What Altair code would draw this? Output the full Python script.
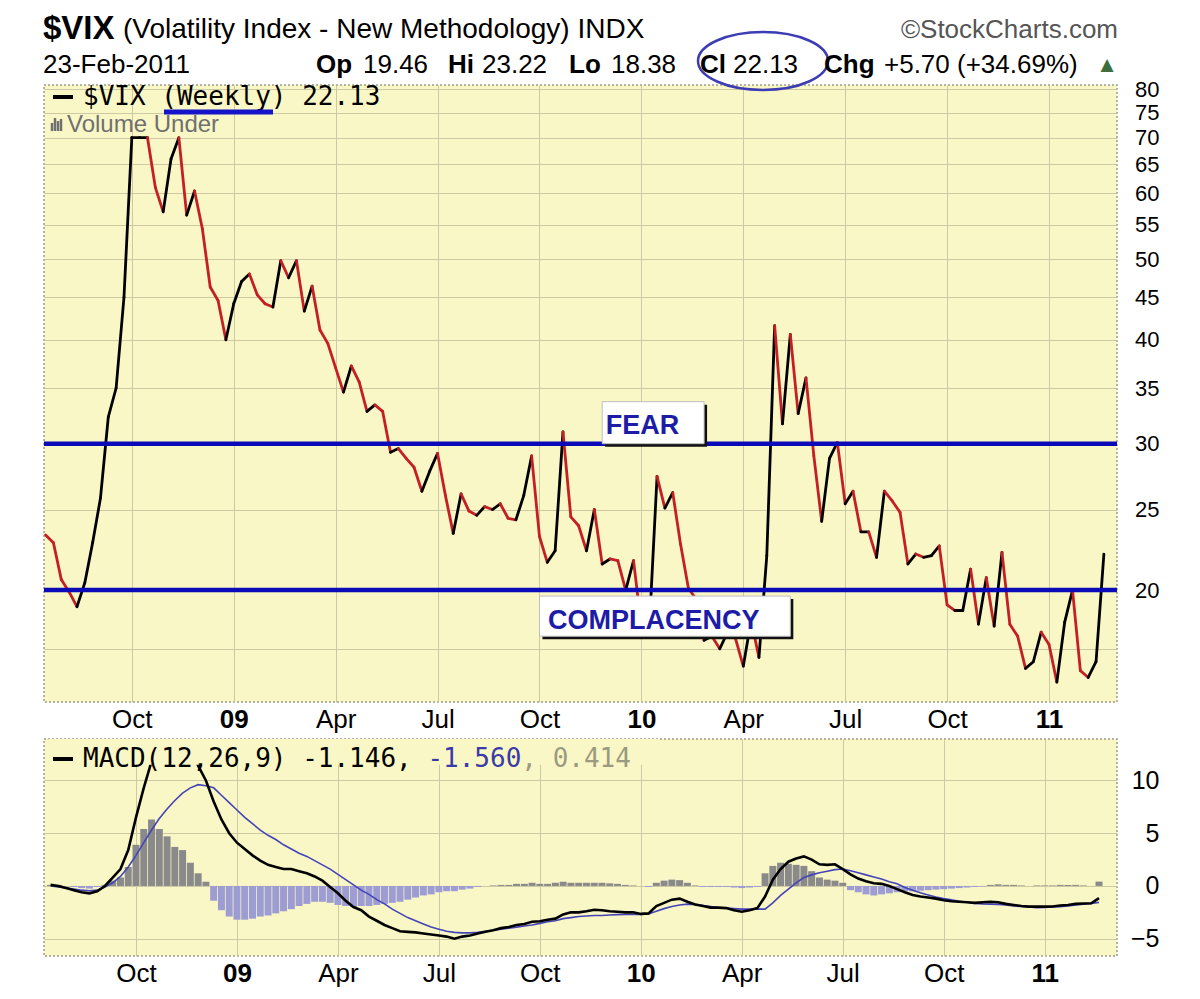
import altair as alt
import pandas as pd
import numpy as np

# ---------------- data (weekly, bars dated by the Monday of each week) ----------------
first_week = "2008-07-21"
vix_close = [
    23.3, 22.8, 20.6, 19.9, 19.1, 20.4, 22.8, 25.8, 32.3, 35.0,
    45.0, 70.0, 70.0, 70.0, 61.0, 57.0, 66.0, 70.0, 56.5, 60.4,
    54.4, 46.3, 44.6, 40.0, 44.2, 47.0, 48.0, 45.3, 44.2, 43.8,
    49.8, 47.5, 49.8, 43.3, 46.4, 41.1, 39.6, 37.0, 34.6, 37.2,
    35.6, 32.8, 33.4, 32.8, 29.3, 29.6, 28.8, 28.1, 26.3, 27.8,
    29.2, 26.0, 23.4, 26.1, 24.9, 24.6, 25.2, 25.0, 25.4, 24.4,
    24.3, 26.0, 29.0, 23.2, 21.6, 22.3, 31.0, 24.5, 23.9, 22.3,
    25.0, 21.5, 21.8, 21.7, 20.0, 21.7, 18.1, 17.9, 27.4, 25.1,
    26.2, 22.7, 20.1, 19.5, 17.4, 17.6, 17.0, 17.8, 17.5, 16.2,
    18.4, 16.6, 22.0, 41.6, 31.7, 40.6, 32.6, 36.0, 29.0, 24.2,
    28.8, 30.1, 25.4, 26.3, 23.5, 23.5, 21.9, 26.3, 25.6, 24.8,
    21.5, 22.1, 21.9, 22.0, 22.6, 19.2, 18.9, 18.9, 21.2, 18.2,
    20.7, 18.1, 22.2, 18.2, 17.6, 16.1, 16.4, 17.8, 17.2, 15.5,
    18.3, 20.0, 16.0, 15.7, 16.4, 22.1,
]
macd_line = [
    0.1, 0.0, -0.2, -0.4, -0.6, -0.7, -0.5, 0.0, 0.8, 1.6,
    3.4, 6.5, 9.3, 11.8, 14.5, 15.5, 16.0, 15.5, 13.5, 11.4,
    10.0, 8.0, 6.3, 5.0, 4.1, 3.5, 2.9, 2.4, 2.0, 1.8,
    1.6, 1.6, 1.4, 1.2, 0.9, 0.5, -0.1, -0.7, -1.4, -2.0,
    -2.3, -2.9, -3.3, -3.7, -4.0, -4.3, -4.35, -4.4, -4.5, -4.6,
    -4.7, -4.8, -5.0, -4.8, -4.7, -4.5, -4.35, -4.2, -4.0, -3.9,
    -3.7, -3.6, -3.4, -3.35, -3.2, -3.1, -2.7, -2.5, -2.5, -2.4,
    -2.25, -2.3, -2.4, -2.45, -2.5, -2.5, -2.65, -2.6, -1.9, -1.6,
    -1.3, -1.2, -1.5, -1.75, -1.9, -2.05, -2.05, -2.1, -2.3, -2.45,
    -2.3, -2.1, -1.0, 0.6, 1.6, 2.3, 2.6, 2.8, 2.5, 2.05,
    2.0, 2.05, 1.6, 1.1, 0.7, 0.45, 0.25, 0.2, 0.0, -0.3,
    -0.6, -0.85, -1.0, -1.1, -1.2, -1.35, -1.45, -1.5, -1.55, -1.6,
    -1.55, -1.5, -1.55, -1.7, -1.8, -1.9, -1.96, -1.96, -1.96, -1.95,
    -1.85, -1.8, -1.7, -1.66, -1.64, -1.15,
]
signal_line = [
    0.0, -0.1, -0.2, -0.3, -0.4, -0.45, -0.4, -0.1, 0.3, 0.9,
    1.8, 2.9, 4.1, 5.3, 6.4, 7.3, 8.1, 8.8, 9.3, 9.6,
    9.5, 9.3, 8.6, 7.9, 7.2, 6.5, 5.9, 5.3, 4.8, 4.4,
    3.9, 3.5, 3.1, 2.8, 2.4, 2.0, 1.6, 1.1, 0.6, 0.1,
    -0.4, -0.8, -1.3, -1.7, -2.2, -2.6, -3.0, -3.3, -3.6, -3.9,
    -4.1, -4.3, -4.4, -4.45, -4.45, -4.4, -4.3, -4.2, -4.1, -4.0,
    -3.9, -3.8, -3.7, -3.55, -3.4, -3.3, -3.1, -3.0, -2.9, -2.85,
    -2.8, -2.8, -2.75, -2.72, -2.7, -2.7, -2.7, -2.65, -2.4, -2.15,
    -1.95, -1.8, -1.72, -1.75, -1.85, -1.95, -2.05, -2.1, -2.15, -2.2,
    -2.2, -2.2, -2.2, -1.6, -0.9, -0.3, 0.3, 0.8, 1.05, 1.25,
    1.4, 1.55, 1.6, 1.45, 1.25, 1.05, 0.85, 0.65, 0.4, 0.2,
    -0.15, -0.4, -0.65, -0.85, -1.05, -1.2, -1.3, -1.45, -1.55, -1.65,
    -1.7, -1.72, -1.75, -1.8, -1.9, -1.95, -2.0, -2.05, -2.03, -2.0,
    -1.96, -1.9, -1.8, -1.72, -1.65, -1.56,
]
histogram = [
    0.1, 0.1, 0.0, -0.1, -0.2, -0.25, -0.1, 0.1, 0.5, 0.8,
    1.8, 3.9, 5.4, 6.3, 5.4, 4.7, 3.7, 3.4, 2.2, 1.2,
    0.4, -1.4, -2.3, -2.9, -3.2, -3.2, -3.1, -2.9, -2.8, -2.6,
    -2.4, -2.2, -1.9, -1.7, -1.5, -1.5, -1.6, -1.8, -1.9, -2.0,
    -1.9, -1.9, -1.8, -1.7, -1.6, -1.5, -1.3, -1.1, -0.9, -0.8,
    -0.6, -0.5, -0.5, -0.35, -0.25, -0.1, 0.0, 0.05, 0.1, 0.1,
    0.2, 0.2, 0.3, 0.2, 0.2, 0.3, 0.4, 0.3, 0.3, 0.3,
    0.3, 0.3, 0.25, 0.2, 0.1, 0.05, 0.0, -0.1, 0.3, 0.5,
    0.6, 0.55, 0.3, 0.05, -0.1, -0.1, -0.1, -0.1, -0.15, -0.2,
    -0.15, -0.1, 1.2, 1.9, 2.2, 2.1, 2.0, 1.9, 1.4, 0.8,
    0.6, 0.5, 0.3, -0.4, -0.6, -0.8, -0.9, -0.8, -0.7, -0.6,
    -0.5, -0.5, -0.45, -0.4, -0.35, -0.3, -0.25, -0.2, -0.15, -0.1,
    -0.05, 0.1, 0.15, 0.1, 0.1, 0.05, 0.0, 0.05, 0.05, 0.05,
    0.1, 0.1, 0.1, 0.05, 0.0, 0.41,
]
tick_dates = ["2008-10-06", "2009-01-05", "2009-04-06", "2009-07-06", "2009-10-05",
              "2010-01-04", "2010-04-05", "2010-07-05", "2010-10-04", "2011-01-03"]
price_ticks = [17, 20, 25, 30, 35, 40, 45, 50, 55, 60, 65, 70, 75, 80]
macd_ticks = [-5, 0, 5, 10]
levels = [20, 30]

dates = [(pd.Timestamp(first_week) + pd.Timedelta(weeks=i)).strftime("%Y-%m-%d")
         for i in range(len(vix_close))]

seg = pd.DataFrame({"d1": dates[:-1], "d2": dates[1:],
                    "v1": vix_close[:-1], "v2": vix_close[1:]})
seg["dir"] = np.where(seg["v2"] >= seg["v1"], "up", "down")

macd_df = pd.DataFrame({"date": dates, "macd": macd_line, "signal": signal_line,
                        "hist": histogram})
macd_df["sign"] = np.where(macd_df["hist"] >= 0, "pos", "neg")

boxes = pd.DataFrame({
    "x1": ["2009-11-30", "2009-10-05"], "x2": ["2010-03-01", "2010-05-17"],
    "y1": [30.0, 17.6], "y2": [33.7, 19.67],
    "tx": ["2010-01-05", "2010-01-15"], "ty": [30.8, 17.95],
    "label": ["FEAR", "COMPLACENCY"],
})

# ---------------- styling ----------------
SANS = "Liberation Sans"
MONO = "DejaVu Sans Mono"
BG = "#faf7c6"
W = 1073
H_MAIN = 617
H_MACD = 217

def dt(s, hours=0):
    t = pd.Timestamp(s)
    return alt.DateTime(year=t.year, month=t.month, date=t.day, hours=hours, utc=True)

x_dom = [dt("2008-07-19", 14), dt("2011-03-04", 17)]
x_scale = alt.Scale(type="utc", domain=x_dom, nice=False)
x_axis = alt.Axis(
    values=[dt(d) for d in tick_dates], title=None, grid=True, ticks=False, domain=False,
    labelExpr="utcmonth(datum.value) == 0 ? utcFormat(datum.value, '%y') : utcFormat(datum.value, '%b')",
    labelFontWeight={"condition": {"test": "utcmonth(datum.value) == 0", "value": "bold"},
                     "value": "normal"},
    labelFontSize=26, labelPadding=4, labelFlush=False, labelOverlap=False,
)

one = pd.DataFrame({"k": [0]})

def label(text, x, y, size, weight="normal", color="#000000", font=SANS,
          align="left", baseline="alphabetic"):
    return alt.Chart(one).mark_text(
        text=text, fontSize=size, fontWeight=weight, color=color, font=font,
        align=align, baseline=baseline,
    ).encode(x=alt.value(x), y=alt.value(y))

def hline(x1, x2, y, color, width):
    return alt.Chart(one).mark_rule(color=color, strokeWidth=width).encode(
        x=alt.value(x1), x2=alt.value(x2), y=alt.value(y))

def vline(x, y1, y2, color, width):
    return alt.Chart(one).mark_rule(color=color, strokeWidth=width).encode(
        x=alt.value(x), y=alt.value(y1), y2=alt.value(y2))

# ---------------- main price panel ----------------
y_scale = alt.Scale(type="log", domain=[14.67, 81.0], nice=False)
y_axis = alt.Axis(
    orient="right", values=price_ticks, title=None, grid=True, ticks=False, domain=False,
    labelExpr="datum.value == 17 ? '' : format(datum.value, 'd')",
    labelAlign="right", labelPadding=42, labelFontSize=22, labelOverlap=False,
)

price = alt.Chart(seg).mark_rule(strokeWidth=2.8, strokeCap="round").encode(
    x=alt.X("d1:T", scale=x_scale, axis=x_axis),
    x2="d2:T",
    y=alt.Y("v1:Q", scale=y_scale, axis=y_axis),
    y2="v2:Q",
    color=alt.Color("dir:N", scale=alt.Scale(domain=["up", "down"],
                                             range=["#000000", "#c41f24"]), legend=None),
)

lvl = alt.Chart(pd.DataFrame({"level": levels})).mark_rule(
    color="#0a0ab8", strokeWidth=4.5).encode(y=alt.Y("level:Q", title=None))

shadow = alt.Chart(boxes).mark_rect(
    color="#111111", xOffset=3, x2Offset=3, yOffset=3, y2Offset=3).encode(
    x=alt.X("x1:T", title=None), x2="x2:T", y=alt.Y("y1:Q", title=None), y2="y2:Q")
box = alt.Chart(boxes).mark_rect(fill="#ffffff", stroke="#bdbdbd", strokeWidth=1).encode(
    x=alt.X("x1:T", title=None), x2="x2:T", y=alt.Y("y1:Q", title=None), y2="y2:Q")
box_text = alt.Chart(boxes).mark_text(
    font=SANS, fontSize=27, fontWeight="bold", color="#1c1ca6", baseline="alphabetic").encode(
    x=alt.X("tx:T", title=None), y=alt.Y("ty:Q", title=None), text="label:N")

ellipse_path = "M -1 0 A 1 0.446 0 1 1 1 0 A 1 0.446 0 1 1 -1 0 Z"
ellipse = alt.Chart(one).mark_point(
    shape=ellipse_path, size=16900, filled=False, stroke="#3c3cb4", strokeWidth=2.5,
    opacity=1).encode(x=alt.value(719), y=alt.value(-24))

anchor = alt.Chart(one).mark_rule(strokeOpacity=0, strokeWidth=1).encode(
    x=alt.value(-35), x2=alt.value(-35), y=alt.value(-76), y2=alt.value(-76))

header = [
    label("$VIX", -1, -46, 33, "bold"),
    label("(Volatility Index - New Methodology) INDX", 79, -47, 28),
    label("\u00a9StockCharts.com", 1074, -47, 26, color="#555555", align="right"),
    label("23-Feb-2011", -1, -12, 26),
    label("Op", 272, -12, 26, "bold"), label("19.46", 319, -12, 26),
    label("Hi", 404, -12, 26, "bold"), label("23.22", 438, -12, 26),
    label("Lo", 525, -12, 26, "bold"), label("18.38", 567, -12, 26),
    label("Cl", 656, -12, 26, "bold"), label("22.13", 689, -12, 26),
    label("Chg", 780, -12, 26, "bold"), label("+5.70 (+34.69%)", 840, -12, 26),
    label("\u25b2", 1063, -20, 17, color="#3d6e3d", font="DejaVu Sans",
          align="center", baseline="middle"),
]

legend_main = [
    hline(9, 29, 12, "#000000", 4),
    label("$VIX (Weekly) 22.13", 39, 12, 26, font=MONO, baseline="middle"),
    vline(8, 38, 46, "#707070", 2.5), vline(11, 33, 46, "#707070", 2.5),
    vline(14, 36, 46, "#707070", 2.5), vline(17, 34, 46, "#707070", 2.5),
    label("Volume Under", 23, 40, 24, color="#707070", baseline="middle"),
    hline(120, 229, 27, "#1414c8", 5),
]

main = alt.layer(
    price, lvl, shadow, box, box_text, ellipse, anchor, *header, *legend_main
).properties(width=W, height=H_MAIN)

# ---------------- MACD panel ----------------
m_scale = alt.Scale(domain=[-6.64, 13.93], nice=False, zero=False)
m_axis = alt.Axis(
    orient="right", values=macd_ticks, title=None, grid=True, ticks=False, domain=False,
    labelAlign="right", labelPadding=42, labelFontSize=25, format="d",
)

hist = alt.Chart(macd_df).mark_bar(size=7, clip=True).encode(
    x=alt.X("date:T", scale=x_scale, axis=x_axis),
    y=alt.Y("hist:Q", scale=m_scale, axis=m_axis),
    y2=alt.datum(0),
    color=alt.Color("sign:N", scale=alt.Scale(domain=["pos", "neg"],
                                              range=["#8a8a8a", "#9d9dd4"]), legend=None),
)
sig = alt.Chart(macd_df).mark_line(color="#4444b8", strokeWidth=1.6, clip=True).encode(
    x=alt.X("date:T", title=None), y=alt.Y("signal:Q", title=None))
mac = alt.Chart(macd_df).mark_line(color="#000000", strokeWidth=2.6, clip=True).encode(
    x=alt.X("date:T", title=None), y=alt.Y("macd:Q", title=None))

mask_df = pd.DataFrame({"x1": ["2008-07-19"], "x2": ["2010-01-20"], "y1": [11.5], "y2": [13.93]})
mask = alt.Chart(mask_df).mark_rect(color=BG).encode(
    x=alt.X("x1:T", title=None), x2="x2:T", y=alt.Y("y1:Q", title=None), y2="y2:Q")

ADV = 26 * 0.6021
legend_macd = [
    hline(9, 29, 20, "#000000", 4),
    label("MACD(12,26,9) -1.146,", 39, 20, 26, font=MONO, baseline="middle"),
    label("-1.560", 39 + 22 * ADV, 20, 26, font=MONO, color="#3a3aa8", baseline="middle"),
    label(", 0.414", 39 + 28 * ADV, 20, 26, font=MONO, color="#9a9a80", baseline="middle"),
]

macd = alt.layer(hist, sig, mac, mask, *legend_macd).properties(width=W, height=H_MACD)

chart = alt.vconcat(main, macd, spacing=37, bounds="flush").resolve_scale(
    color="independent"
).properties(
    padding=0, background="#ffffff"
).configure_view(
    fill=BG, stroke="#9c9c8c", strokeDash=[2, 2], strokeWidth=1.5
).configure_axis(
    gridColor="#cdc9a4", gridWidth=1, gridOpacity=1, labelFont=SANS, labelColor="#000000"
)

chart.save("out.html", embed_options={"renderer": "svg", "actions": False})
